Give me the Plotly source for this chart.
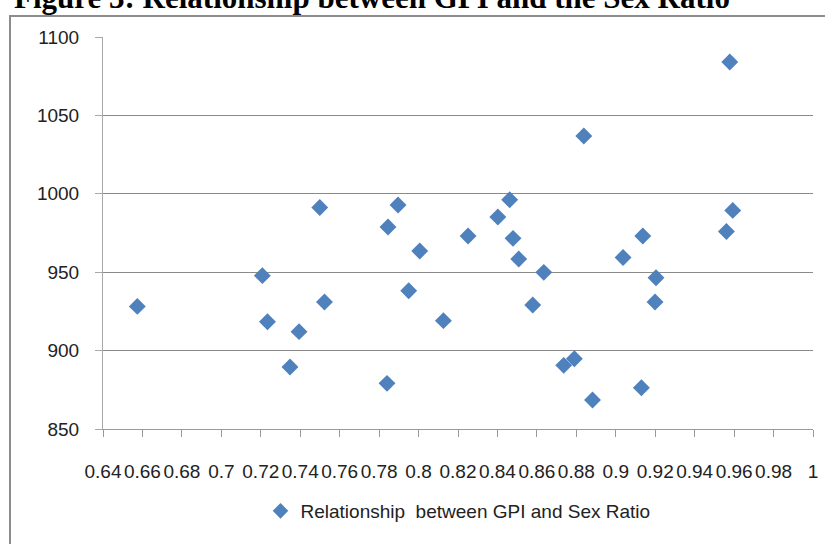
import plotly.graph_objects as go

gpi = [0.6574, 0.7499, 0.7208, 0.7523, 0.7234, 0.7394, 0.7348,
       0.7896, 0.7845, 0.8006, 0.7950, 0.8126, 0.7840, 0.8251,
       0.8462, 0.8402, 0.8479, 0.8508, 0.8635, 0.8579, 0.8736, 0.8790,
       0.9578, 0.8838, 0.9593, 0.9561, 0.9137, 0.9037, 0.9204, 0.9199,
       0.9130, 0.8882]
sex_ratio = [928.2, 991.3, 947.8, 931.0, 918.4, 912.1, 889.5,
             992.9, 978.8, 963.5, 938.2, 919.1, 879.1, 973.1,
             996.2, 985.2, 971.6, 958.4, 949.9, 929.1, 890.6, 894.8,
             1084.1, 1036.9, 989.4, 976.0, 973.1, 959.4, 946.5, 931.0,
             876.3, 868.5]

x_tickvals = [0.64, 0.66, 0.68, 0.70, 0.72, 0.74, 0.76, 0.78, 0.80, 0.82,
              0.84, 0.86, 0.88, 0.90, 0.92, 0.94, 0.96, 0.98, 1.00]
x_ticktext = ["0.64", "0.66", "0.68", "0.7", "0.72", "0.74", "0.76", "0.78", "0.8",
              "0.82", "0.84", "0.86", "0.88", "0.9", "0.92", "0.94", "0.96", "0.98", "1"]
y_tickvals = [850, 900, 950, 1000, 1050, 1100]

series_name = "Relationship  between GPI and Sex Ratio"
title_text = "Figure 3: Relationship between GPI and the Sex Ratio"

W, H = 825, 544
L, R, T, B = 103, 12, 37, 115
pw, ph = W - L - R, H - T - B

def px_x(p):
    return (p - L) / pw

def px_y(p):
    return 1 - (p - T) / ph

fig = go.Figure()
fig.add_trace(go.Scatter(
    x=gpi, y=sex_ratio, mode="markers", name=series_name,
    marker=dict(symbol="diamond", size=13, color="#4F81BD",
                line=dict(width=0)),
    showlegend=True,
))

font_fam = "Liberation Sans, Arial, sans-serif"
fig.update_layout(
    width=W, height=H,
    margin=dict(l=L, r=R, t=T, b=B, pad=0),
    paper_bgcolor="white", plot_bgcolor="white",
    font=dict(family=font_fam, size=19, color="#222222"),
    showlegend=True,
    legend=dict(orientation="h", x=0.5, xanchor="center",
                y=px_y(511), yanchor="middle",
                font=dict(family=font_fam, size=19, color="#222222"),
                itemsizing="constant", bgcolor="rgba(0,0,0,0)"),
    xaxis=dict(range=[0.64, 1.0], tickvals=x_tickvals, ticktext=x_ticktext,
               tickangle=0, automargin=False,
               showgrid=False, zeroline=False, showline=True,
               linecolor="#9a9a9a", linewidth=1,
               ticks="outside", ticklen=7, tickcolor="#9a9a9a",
               ticklabelstandoff=18,
               tickfont=dict(family=font_fam, size=19, color="#222222")),
    yaxis=dict(range=[850, 1100], tickvals=y_tickvals, automargin=False,
               showgrid=True, gridcolor="#8a8a8a", gridwidth=1,
               zeroline=False, showline=True,
               linecolor="#a8a8a8", linewidth=1,
               ticks="outside", ticklen=7, tickcolor="#a8a8a8",
               ticklabelstandoff=12,
               tickfont=dict(family=font_fam, size=19, color="#222222")),
    shapes=[dict(type="rect", xref="paper", yref="paper",
                 x0=px_x(10), x1=px_x(900), y0=px_y(620), y1=px_y(16),
                 line=dict(color="#8c8c8c", width=2), fillcolor="rgba(0,0,0,0)",
                 layer="below")],
    annotations=[dict(text="<b>" + title_text + "</b>", xref="paper", yref="paper",
                      x=px_x(372), y=px_y(-3), xanchor="center", yanchor="middle",
                      showarrow=False,
                      font=dict(family="Liberation Serif, Times New Roman, serif",
                                size=31, color="black"))],
)

fig.write_html("out.html")
